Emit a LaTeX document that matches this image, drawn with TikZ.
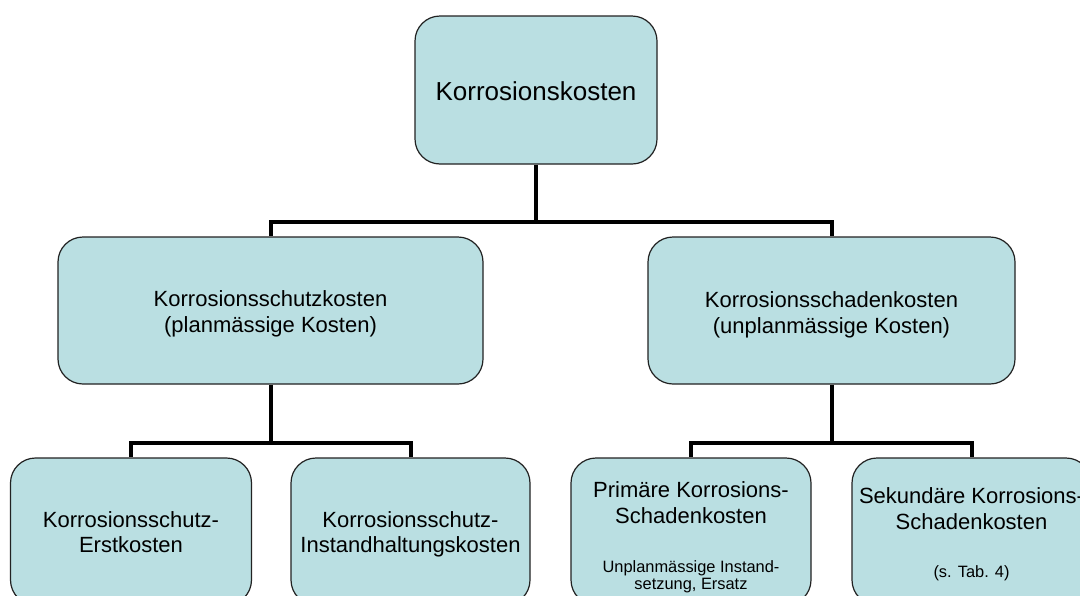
\documentclass[tikz,border=0pt]{standalone}
\usepackage{fontspec}
\setmainfont{Liberation Sans}
\definecolor{boxfill}{HTML}{BADFE2}
\definecolor{boxline}{HTML}{222222}
\begin{document}
\begin{tikzpicture}[x=1pt,y=-1pt,
  box/.style={draw=boxline,fill=boxfill,line width=1.2pt,rounded corners=25pt,inner sep=0pt},
  conn/.style={draw=black,line width=4pt},
  lbl/.style={inner sep=0pt,anchor=base,text=black},
  big/.style={lbl,font=\fontsize{26}{30}\selectfont},
  mid/.style={lbl,font=\fontsize{22}{26}\selectfont},
  sml/.style={lbl,font=\fontsize{16.4}{18}\selectfont}]
\useasboundingbox (0,0) rectangle (1080,595);
\fill[white] (0,0) rectangle (1080,595);
% boxes
\node[box,minimum width=242pt,minimum height=148pt] (top) at (536,90) {};
\node[box,minimum width=425pt,minimum height=147pt] (ml) at (270.5,310.5) {};
\node[box,minimum width=367pt,minimum height=147pt] (mr) at (831.5,310.5) {};
\node[box,minimum width=241pt,minimum height=147pt] (b1) at (131,531.5) {};
\node[box,minimum width=239pt,minimum height=147pt] (b2) at (410.5,531.5) {};
\node[box,minimum width=240pt,minimum height=147pt] (b3) at (691,531.5) {};
\node[box,minimum width=239pt,minimum height=147pt] (b4) at (971.5,531.5) {};
% junctions
\coordinate (j0) at (536,222);
\coordinate (j1) at (270.5,443);
\coordinate (j2) at (831.5,443);
% connectors
\draw[conn] (top.south) -- (j0);
\draw[conn] (j0) -| (ml.north);
\draw[conn] (j0) -| (mr.north);
\draw[conn] (ml.south) -- (j1);
\draw[conn] (j1) -| (b1.north);
\draw[conn] (j1) -| (b2.north);
\draw[conn] (mr.south) -- (j2);
\draw[conn] (j2) -| (b3.north);
\draw[conn] (j2) -| (b4.north);
% texts
\node[big] (ttop) at (536,100) {Korrosionskosten};
\node[mid] (tml1) at (270.5,306) {Korrosionsschutzkosten};
\node[mid] (tml2) at (270.5,332) {(planmässige Kosten)};
\node[mid] (tmr1) at (831.5,307) {Korrosionsschadenkosten};
\node[mid] (tmr2) at (831.5,333) {(unplanmässige Kosten)};
\node[mid] (tb11) at (131,527) {Korrosionsschutz-};
\node[mid] (tb12) at (131,552) {Erstkosten};
\node[mid] (tb21) at (410.5,527) {Korrosionsschutz-};
\node[mid] (tb22) at (410.5,552) {Instandhaltungskosten};
\node[mid] (tb31) at (691,497) {Primäre Korrosions-};
\node[mid] (tb32) at (691,523) {Schadenkosten};
\node[sml] (tb33) at (691,572) {Unplanmässige Instand-};
\node[sml] (tb34) at (691,589) {setzung, Ersatz};
\node[mid] (tb41) at (971.5,503) {Sekundäre Korrosions-};
\node[mid] (tb42) at (971.5,529) {Schadenkosten};
\node[sml] (tb43) at (971.5,577) {(s. Tab. 4)};
\end{tikzpicture}
\end{document}
